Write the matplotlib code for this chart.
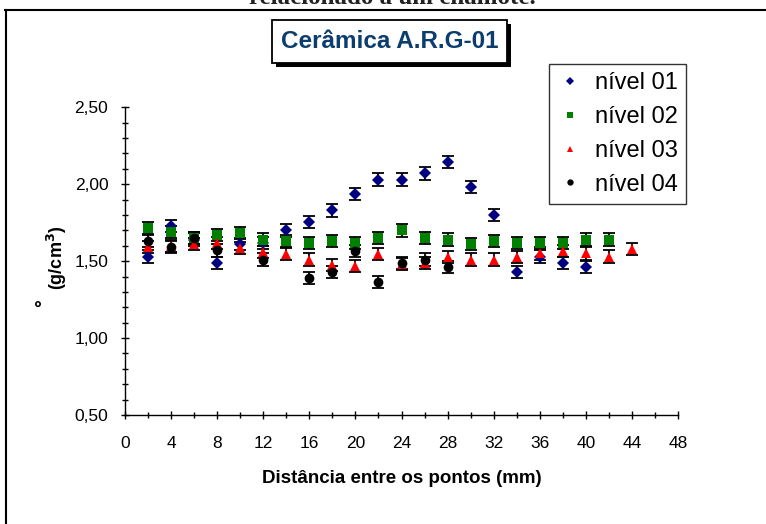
import matplotlib; matplotlib.use('Agg')
import matplotlib.pyplot as plt
from matplotlib.patches import Rectangle
from matplotlib.lines import Line2D
from matplotlib.ticker import MultipleLocator, FuncFormatter

plt.rcParams['font.family'] = ['Liberation Sans', 'DejaVu Sans']

# dados
x01 = [2, 4, 6, 8, 10, 12, 14, 16, 18, 20, 22, 24, 26, 28, 30, 32, 34, 36, 38, 40]
y01 = [1.53, 1.73, 1.64, 1.49, 1.61, 1.62, 1.70, 1.755, 1.83, 1.935, 2.03, 2.03, 2.07, 2.145,
       1.98, 1.80, 1.43, 1.53, 1.49, 1.46]
x02 = [2, 4, 6, 8, 10, 12, 14, 16, 18, 20, 22, 24, 26, 28, 30, 32, 34, 36, 38, 40, 42]
y02 = [1.715, 1.69, 1.65, 1.67, 1.685, 1.64, 1.63, 1.62, 1.63, 1.62, 1.65, 1.70, 1.65, 1.64,
       1.61, 1.63, 1.62, 1.62, 1.62, 1.64, 1.64]
x03 = [2, 4, 6, 8, 10, 12, 14, 16, 18, 20, 22, 24, 26, 28, 30, 32, 34, 36, 38, 40, 42, 44]
y03 = [1.59, 1.60, 1.61, 1.62, 1.585, 1.56, 1.545, 1.51, 1.475, 1.47, 1.545, 1.48, 1.49, 1.525,
       1.51, 1.51, 1.525, 1.55, 1.565, 1.55, 1.53, 1.58]
x04 = [2, 4, 6, 8, 12, 16, 18, 20, 22, 24, 26, 28]
y04 = [1.63, 1.59, 1.65, 1.57, 1.51, 1.39, 1.43, 1.565, 1.365, 1.49, 1.51, 1.46]
ERR = 0.04
series = [('nível 01', x01, y01, 'D', '#000080', 6),
          ('nível 02', x02, y02, 's', '#008000', 6.5),
          ('nível 03', x03, y03, '^', '#FF0000', 7.5),
          ('nível 04', x04, y04, 'o', 'black', 7)]

W, H = 766, 524
fig = plt.figure(figsize=(W/100, H/100), dpi=100)
def fx(px): return px/W
def fy(py): return 1-py/H

ax = fig.add_axes([fx(125), fy(415), fx(678)-fx(125), fy(107.3)-fy(415)])
for s in ['top', 'right']:
    ax.spines[s].set_visible(False)
for s in ['left', 'bottom']:
    ax.spines[s].set_linewidth(1.0)

handles = []
for lab, xs, ys, mk, col, ms in series:
    ax.errorbar(xs, ys, yerr=ERR, fmt='none', ecolor='black', elinewidth=1.3, capsize=4.5, capthick=1.3, zorder=2)
    ax.plot(xs, ys, linestyle='none', marker=mk, color=col, markersize=ms, markeredgewidth=0, zorder=3)
    handles.append(Line2D([], [], linestyle='none', marker=mk, color=col, markersize=ms*0.65, markeredgewidth=0, label=lab))

ax.set_xlim(0, 48)
ax.set_ylim(0.5, 2.5)
ax.xaxis.set_major_locator(MultipleLocator(4))
ax.xaxis.set_minor_locator(MultipleLocator(2))
ax.yaxis.set_major_locator(MultipleLocator(0.5))
ax.yaxis.set_minor_locator(MultipleLocator(0.1))
ax.yaxis.set_major_formatter(FuncFormatter(lambda v, p: f'{v:.2f}'.replace('.', ',')))
ax.tick_params(which='major', direction='inout', length=6, width=1, labelsize=12.5)
ax.tick_params(which='minor', direction='inout', length=4, width=1)
ax.tick_params(axis='x', pad=12)
ax.tick_params(axis='y', pad=9)

ax.set_xlabel('Distância entre os pontos (mm)', fontsize=13.5, fontweight='bold', labelpad=14)
fig.text(fx(57), fy(258), '(g/cm$\\mathbf{^3}$)', rotation=90, fontsize=13, fontweight='bold', ha='center', va='center')
fig.text(fx(44), fy(303), '°', rotation=90, fontsize=14, fontweight='bold', ha='center', va='center')

leg = fig.legend(handles=handles, loc='upper left', bbox_to_anchor=(fx(549), fy(64)), fontsize=17,
                 frameon=True, fancybox=False, borderpad=0.35, handlelength=1.1, handletextpad=0.5,
                 labelspacing=0.5, borderaxespad=0)
leg.get_frame().set_edgecolor('black')
leg.get_frame().set_linewidth(1.0)

# caixa do titulo com sombra
fig.add_artist(Rectangle((fx(276), fy(67)), fx(235), 43/H, transform=fig.transFigure, facecolor='black', edgecolor='none'))
fig.add_artist(Rectangle((fx(272), fy(63)), fx(235), 43/H, transform=fig.transFigure, facecolor='white', edgecolor='black', lw=1.3))
fig.text(fx(389.5), fy(42), 'Cerâmica A.R.G-01', fontsize=17.5, fontweight='bold', color='#0B3D6E', ha='center', va='center')

# borda externa e texto cortado do topo
fig.add_artist(Line2D([fx(5), 1.0], [fy(10), fy(10)], transform=fig.transFigure, color='black', lw=1.5))
fig.add_artist(Line2D([fx(5.5), fx(5.5)], [0, fy(10)], transform=fig.transFigure, color='black', lw=1.5))
fig.text(fx(392), fy(4), 'relacionado a um chamote.', family='Liberation Serif', fontsize=18, fontweight='bold',
         ha='center', va='baseline', color='#222222')

fig.savefig('out.png', dpi=100, facecolor='white')
